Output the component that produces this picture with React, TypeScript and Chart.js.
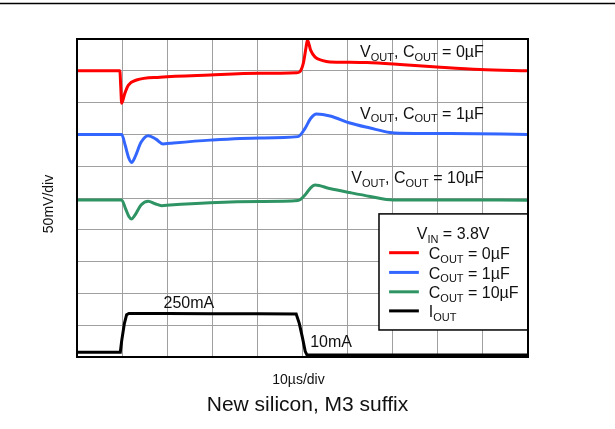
import React, { useEffect, useRef } from "react";
import { Chart, registerables } from "chart.js";

Chart.register(...registerables);

// ---- data (x in µs, y in divisions) ----
const redT = [0, 9.5, 9.7, 9.9, 10.6, 11.4, 13.2, 18.4, 29.5, 40.6, 48.7, 49.4, 50.2, 50.8, 51.1, 51.8, 52.8, 54.5, 56.1, 60.5, 64.3, 71.6, 79.8, 89.4, 100];
const redV = [9.0, 9.0, 8.5, 7.98, 8.29, 8.55, 8.71, 8.8, 8.87, 8.92, 8.94, 8.97, 9.25, 9.75, 9.97, 9.65, 9.43, 9.32, 9.28, 9.27, 9.26, 9.2, 9.12, 9.04, 9.0];

const blueT = [0, 9.9, 10.7, 11.5, 12.1, 12.9, 14.2, 15.8, 17.5, 19.1, 20.6, 29.5, 40.6, 49.0, 50.6, 51.8, 53.1, 56.1, 60.5, 65.0, 69.4, 71.6, 82.7, 100];
const blueV = [7.0, 7.0, 6.65, 6.25, 6.12, 6.3, 6.75, 6.96, 6.85, 6.7, 6.72, 6.82, 6.89, 6.93, 7.2, 7.5, 7.64, 7.58, 7.36, 7.2, 7.06, 7.04, 7.03, 7.0];

const greenT = [0, 9.9, 10.8, 11.5, 12.1, 12.8, 14.2, 15.8, 17.3, 18.8, 20.6, 29.5, 40.6, 49.0, 50.6, 51.8, 52.8, 56.0, 60.5, 65.0, 70.1, 80, 100];
const greenV = [4.94, 4.94, 4.65, 4.42, 4.34, 4.45, 4.78, 4.9, 4.82, 4.76, 4.78, 4.85, 4.89, 4.92, 5.1, 5.32, 5.41, 5.3, 5.17, 5.05, 4.94, 4.94, 4.93];

const ioutT = [0, 9.6, 9.9, 10.5, 11.0, 11.5, 20, 30, 40, 48.6, 49.3, 50.0, 50.6, 51.0, 60, 80, 100];
const ioutV = [0.15, 0.15, 0.5, 1.05, 1.33, 1.37, 1.37, 1.36, 1.36, 1.35, 1.05, 0.6, 0.18, 0.06, 0.06, 0.06, 0.06];

const curveLabels = ["V_{OUT}, C_{OUT} = 0µF", "V_{OUT}, C_{OUT} = 1µF", "V_{OUT}, C_{OUT} = 10µF"];
const currentLabels = ["250mA", "10mA"];
const legendTitle = "V_{IN} = 3.8V";
const legendLabels = ["C_{OUT} = 0µF", "C_{OUT} = 1µF", "C_{OUT} = 10µF", "I_{OUT}"];
const xTitle = "10µs/div";
const yTitle = "50mV/div";
const caption = "New silicon, M3 suffix";

const FONT = '"Liberation Sans", Arial, Helvetica, sans-serif';
const COLORS = ["#ff0000", "#3366ff", "#2f9463", "#000000"];

function pts(t: number[], v: number[]) {
  return t.map((x, i) => ({ x, y: v[i] }));
}

function parseRich(s: string): [string, boolean][] {
  const out: [string, boolean][] = [];
  const re = /_\{([^}]*)\}/g;
  let last = 0;
  let m: RegExpExecArray | null;
  while ((m = re.exec(s))) {
    if (m.index > last) out.push([s.slice(last, m.index), false]);
    out.push([m[1], true]);
    last = m.index + m[0].length;
  }
  if (last < s.length) out.push([s.slice(last), false]);
  return out;
}

function drawRich(ctx: CanvasRenderingContext2D, s: string, x: number, y: number, align: string, size: number) {
  const parts = parseRich(s);
  const subSize = Math.round(size * 0.7);
  let w = 0;
  for (const [t, sub] of parts) {
    ctx.font = `${sub ? subSize : size}px ${FONT}`;
    w += ctx.measureText(t).width;
  }
  let cx = align === "right" ? x - w : align === "center" ? x - w / 2 : x;
  ctx.textAlign = "left";
  ctx.textBaseline = "alphabetic";
  for (const [t, sub] of parts) {
    ctx.font = `${sub ? subSize : size}px ${FONT}`;
    ctx.fillText(t, cx, sub ? y + size * 0.22 : y);
    cx += ctx.measureText(t).width;
  }
}

const decorPlugin = {
  id: "decor",
  afterDatasetsDraw(chart: any) {
    const { ctx, chartArea: a, scales } = chart;
    const xs = scales.x, ys = scales.y;
    const X = (v: number) => xs.getPixelForValue(v);
    const Y = (v: number) => ys.getPixelForValue(v);
    ctx.save();
    // top separator line
    ctx.strokeStyle = "#000";
    ctx.lineWidth = 1.5;
    ctx.beginPath();
    ctx.moveTo(0, 3.5);
    ctx.lineTo(chart.width, 3.5);
    ctx.stroke();

    ctx.fillStyle = "#111";
    // curve labels
    drawRich(ctx, curveLabels[0], X(90.2), Y(9.42), "right", 16);
    drawRich(ctx, curveLabels[1], X(90.2), Y(7.5), "right", 16);
    drawRich(ctx, curveLabels[2], X(90.2), Y(5.46), "right", 16);
    drawRich(ctx, currentLabels[0], X(24.8), Y(1.53), "center", 16);
    drawRich(ctx, currentLabels[1], X(51.7), Y(0.32), "left", 16);

    // legend box
    const bl = X(66.96), bt = Y(4.5), bb = Y(0.85), br = a.right;
    ctx.fillStyle = "#fff";
    ctx.fillRect(bl, bt, br - bl, bb - bt);
    ctx.strokeStyle = "#000";
    ctx.lineWidth = 1.5;
    ctx.strokeRect(bl, bt, br - bl, bb - bt);
    ctx.fillStyle = "#111";
    drawRich(ctx, legendTitle, X(83.4), Y(3.7), "center", 16);
    const rows = [3.28, 2.66, 2.05, 1.45];
    rows.forEach((ry, i) => {
      ctx.strokeStyle = COLORS[i];
      ctx.lineWidth = 3;
      ctx.beginPath();
      ctx.moveTo(X(69.2), Y(ry));
      ctx.lineTo(X(75.8), Y(ry));
      ctx.stroke();
      ctx.fillStyle = "#111";
      drawRich(ctx, legendLabels[i], X(78.0), Y(ry) + 6.5, "left", 16);
    });

    // plot frame
    ctx.strokeStyle = "#000";
    ctx.lineWidth = 2;
    ctx.strokeRect(a.left, a.top, a.right - a.left, a.bottom - a.top);

    // axis titles and caption
    ctx.fillStyle = "#111";
    drawRich(ctx, xTitle, (a.left + a.right) / 2 - 4, a.bottom + 27, "center", 14);
    drawRich(ctx, caption, (a.left + a.right) / 2 + 5, a.bottom + 54, "center", 21);
    ctx.save();
    ctx.translate(a.left - 24, 204);
    ctx.rotate(-Math.PI / 2);
    drawRich(ctx, yTitle, 0, 0, "center", 14);
    ctx.restore();
    ctx.restore();
  },
};

export default function App() {
  const ref = useRef<HTMLCanvasElement | null>(null);
  useEffect(() => {
    if (!ref.current) return;
    const mk = (d: any[], color: string, smooth: boolean) => ({
      data: d,
      borderColor: color,
      backgroundColor: color,
      borderWidth: 3,
      pointRadius: 0,
      fill: false,
      tension: 0,
      cubicInterpolationMode: smooth ? "monotone" : "default",
    });
    const chart = new Chart(ref.current, {
      type: "line",
      data: {
        datasets: [
          mk(pts(redT, redV), COLORS[0], true),
          mk(pts(blueT, blueV), COLORS[1], true),
          mk(pts(greenT, greenV), COLORS[2], true),
          mk(pts(ioutT, ioutV), COLORS[3], false),
        ] as any,
      },
      options: {
        responsive: false,
        animation: false,
        parsing: true,
        layout: { padding: { left: 77, top: 39, right: 87, bottom: 72 } },
        plugins: { legend: { display: false }, tooltip: { enabled: false } },
        scales: {
          x: {
            type: "linear",
            min: 0,
            max: 100,
            ticks: { display: false, stepSize: 10 },
            grid: { color: "#a0a0a0", lineWidth: 1, drawTicks: false },
            border: { display: false },
          },
          y: {
            type: "linear",
            min: 0,
            max: 10,
            ticks: { display: false, stepSize: 1 },
            grid: { color: "#a0a0a0", lineWidth: 1, drawTicks: false },
            border: { display: false },
          },
        },
      } as any,
      plugins: [decorPlugin],
    });
    return () => chart.destroy();
  }, []);
  return (
    <div style={{ position: "absolute", left: 0, top: 0, width: 615, height: 429, background: "#fff" }}>
      <canvas ref={ref} width={615} height={429} />
    </div>
  );
}
